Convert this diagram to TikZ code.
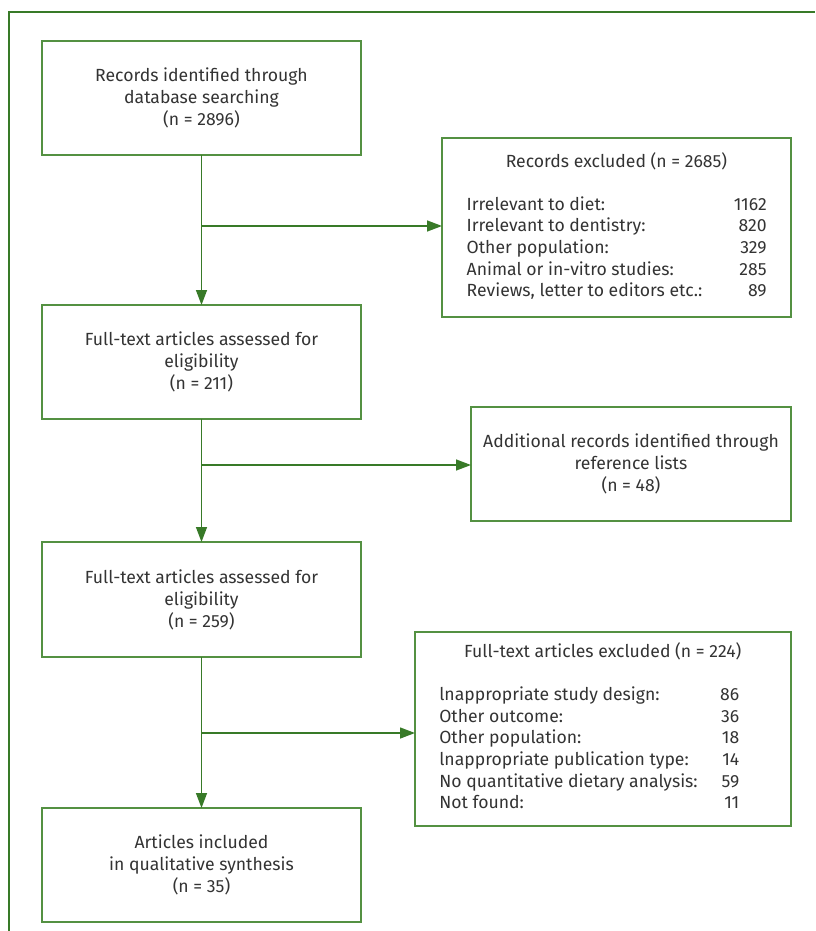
\documentclass[tikz,border=0pt]{standalone}
\usepackage{fontspec}
\setmainfont{Fira Sans}
\usetikzlibrary{arrows.meta}
\definecolor{lineg}{RGB}{56,122,40}
\definecolor{boxg}{RGB}{84,145,66}
\definecolor{txt}{RGB}{51,51,51}
\tikzset{
  x=1pt, y=-1pt,
  boxnode/.style={draw=boxg, line width=1.4pt, inner sep=0pt, outer sep=0pt, text=txt,
    font=\fontsize{17.6}{22}\selectfont, align=center},
  txtnode/.style={inner sep=0pt, outer sep=0pt, text=txt, font=\fontsize{17.6}{21.7}\selectfont},
  arr/.style={draw=lineg, line width=1.4pt, -{Triangle[length=15pt,width=11pt]}},
  ln/.style={draw=lineg, line width=1.4pt},
  frame/.style={draw=lineg, line width=1.5pt}
}
\begin{document}
\begin{tikzpicture}
\useasboundingbox (0,0) rectangle (815,931);
% frame
\coordinate (ftl) at (9,12);
\coordinate (ftr) at (815,12);
\coordinate (fbl) at (9,931);
\draw[frame] (fbl) -- (ftl) -- (ftr);

% main column
\node[boxnode, minimum width=319pt, minimum height=114pt] (rec) at (201.5,98)
  {Records identified through\\database searching\\(n = 2896)};
\node[boxnode, minimum width=319pt, minimum height=114pt] (ft1) at (201.5,362)
  {Full-text articles assessed for\\eligibility\\(n = 211)};
\node[boxnode, minimum width=319pt, minimum height=115pt] (ft2) at (201.5,599.5)
  {Full-text articles assessed for\\eligibility\\(n = 259)};
\node[boxnode, minimum width=319pt, minimum height=114pt] (incl) at (201.5,865)
  {Articles included\\in qualitative synthesis\\(n = 35)};

% side boxes
\node[boxnode, minimum width=349pt, minimum height=179pt] (excl) at (616.5,227.5) {};
\node[txtnode] (exclt) at (616.5,161.7) {Records excluded (n = 2685)};
\node[txtnode] (excll) at (616.7,249.2) {%
  \begin{tabular*}{300pt}{@{}l@{\extracolsep{\fill}}r@{}}
  Irrelevant to diet: & 1162\\
  Irrelevant to dentistry: & 820\\
  Other population: & 329\\
  Animal or in-vitro studies: & 285\\
  Reviews, letter to editors etc.: & 89
  \end{tabular*}};

\node[boxnode, minimum width=320pt, minimum height=114pt] (add) at (631,464)
  {Additional records identified through\\reference lists\\(n = 48)};

\node[boxnode, minimum width=376pt, minimum height=194pt] (excl2) at (603,729) {};
\node[txtnode] (excl2t) at (602.8,651.7) {Full-text articles excluded (n = 224)};
\node[txtnode] (excl2l) at (589.3,750.3) {%
  \begin{tabular*}{300pt}{@{}l@{\extracolsep{\fill}}r@{}}
  lnappropriate study design: & 86\\
  Other outcome: & 36\\
  Other population: & 18\\
  lnappropriate publication type: & 14\\
  No quantitative dietary analysis: & 59\\
  Not found: & 11
  \end{tabular*}};

% connectors
\coordinate (b1) at (201.5,226);
\coordinate (b2) at (201.5,465);
\coordinate (b3) at (201.5,733);
\draw[arr] (rec) -- (ft1);
\draw[arr] (b1) -- (b1 -| excl.west);
\draw[arr] (ft1) -- (ft2);
\draw[arr] (b2) -- (b2 -| add.west);
\draw[arr] (ft2) -- (incl);
\draw[arr] (b3) -- (b3 -| excl2.west);
\end{tikzpicture}
\end{document}
